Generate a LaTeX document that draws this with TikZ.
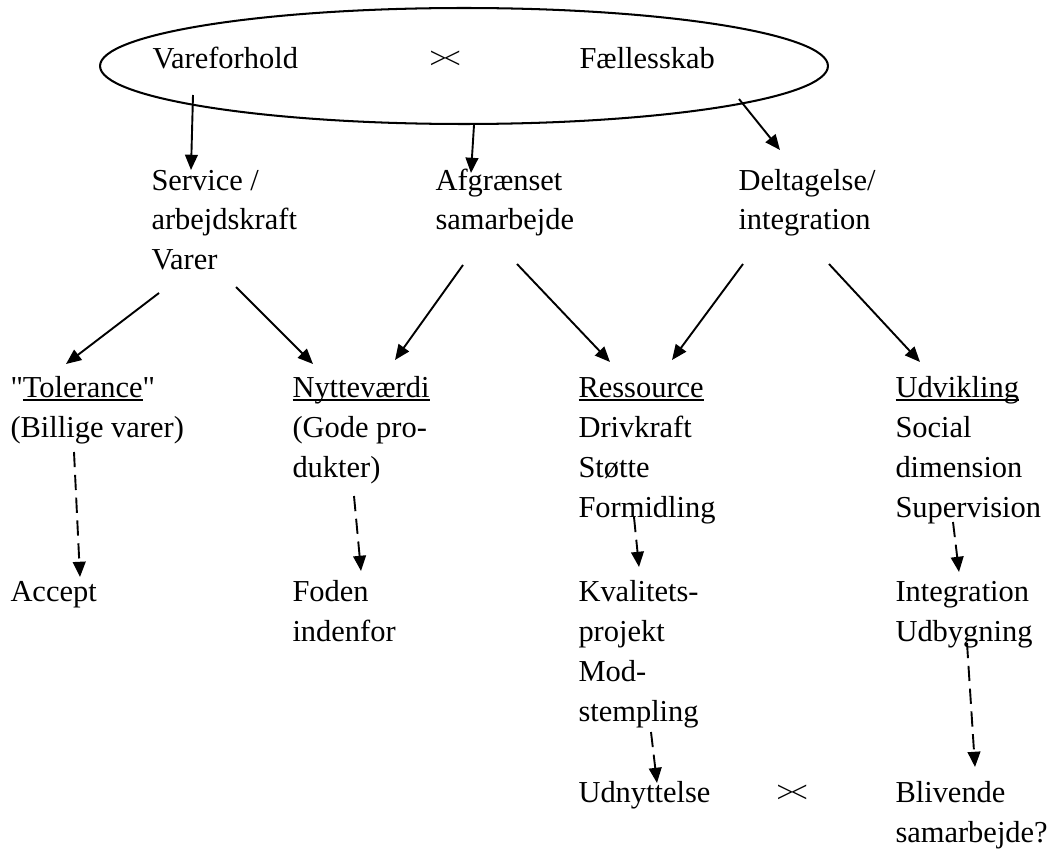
\documentclass[tikz,border=0pt]{standalone}
\usepackage{fontspec}
\setmainfont{Liberation Serif}
\usetikzlibrary{arrows.meta,shapes.geometric}
\newcommand{\ulword}[1]{\setbox0=\hbox{#1}\rlap{\rule[-1.6pt]{\wd0}{0.7pt}}\box0}
\newcommand{\modsat}{>\kern-0.1em<}
\begin{document}
\begin{tikzpicture}[x=0.394pt,y=-0.394pt,
  txt/.style={anchor=base west,inner sep=0pt,align=left,font=\fontsize{12}{15.76}\selectfont},
  arr/.style={-{Triangle[length=6pt,width=5pt]},line width=0.75pt},
  darr/.style={arr,dash pattern=on 6pt off 3pt}]
  \useasboundingbox (0,0) rectangle (1053,852);

  % Top ellipse (base west = baseline of the last line)
  \node[draw,ellipse,line width=0.8pt,inner sep=0pt,minimum width=286.8pt,minimum height=45.7pt] (top) at (464,66) {};
  \node[txt] (vare) at (152,69) {Vareforhold};
  \node[txt] (vs1) at (429,69) {\modsat};
  \node[txt] (fael) at (579,69) {Fællesskab};

  % Second row
  \node[txt] (serv) at (151,270) {Service /\\arbejdskraft\\Varer};
  \node[txt] (afgr) at (435,230) {Afgrænset\\samarbejde};
  \node[txt] (delt) at (738,230) {Deltagelse/\\integration};

  % Third row
  \node[txt] (tol) at (10,437) {\textquotedbl\ulword{Tolerance}\textquotedbl\\(Billige varer)};
  \node[txt] (nyt) at (292,477) {\ulword{Nytteværdi}\\(Gode pro-\\dukter)};
  \node[txt] (res) at (578,517) {\ulword{Ressource}\\Drivkraft\\Støtte\\Formidling};
  \node[txt] (udv) at (895,517) {\ulword{Udvikling}\\Social\\dimension\\Supervision};

  % Fourth row
  \node[txt] (acc) at (10,601) {Accept};
  \node[txt] (fod) at (292,641) {Foden\\indenfor};
  \node[txt] (kval) at (578,721) {Kvalitets-\\projekt\\Mod-\\stempling};
  \node[txt] (integ) at (895,641) {Integration\\Udbygning};

  % Bottom row
  \node[txt] (udn) at (578,802) {Udnyttelse};
  \node[txt] (vs2) at (776,802) {\modsat};
  \node[txt] (bliv) at (895,842) {Blivende\\samarbejde?};

  % Solid arrows
  \draw[arr] ([shift={(41,26)}]vare.base west) -- ([shift={(40,-100)}]serv.base west);
  \draw[arr] ([shift={(10,0)}]top.south) -- ([shift={(36,-57)}]afgr.base west);
  \draw[arr] ([shift={(160,30)}]fael.base west) -- ([shift={(42,-80)}]delt.base west);
  \draw[arr] ([shift={(8,23)}]serv.base west) -- ([shift={(56,-73)}]tol.base west);
  \draw[arr] ([shift={(85,17)}]serv.base west) -- ([shift={(21,-113)}]nyt.base west);
  \draw[arr] ([shift={(28,35)}]afgr.base west) -- ([shift={(103,-117)}]nyt.base west);
  \draw[arr] ([shift={(82,34)}]afgr.base west) -- ([shift={(32,-155)}]res.base west);
  \draw[arr] ([shift={(5,34)}]delt.base west) -- ([shift={(94,-157)}]res.base west);
  \draw[arr] ([shift={(91,34)}]delt.base west) -- ([shift={(25,-155)}]udv.base west);

  % Dashed arrows
  \draw[darr] ([shift={(64,15)}]tol.base west) -- ([shift={(70,-24)}]acc.base west);
  \draw[darr] ([shift={(62,19)}]nyt.base west) -- ([shift={(69,-70)}]fod.base west);
  \draw[darr] ([shift={(56,0)}]res.base west) -- ([shift={(61,-154)}]kval.base west);
  \draw[darr] ([shift={(58,5)}]udv.base west) -- ([shift={(64,-69)}]integ.base west);
  \draw[darr] ([shift={(73,11)}]kval.base west) -- ([shift={(79,-19)}]udn.base west);
  \draw[darr] ([shift={(72,2)}]integ.base west) -- ([shift={(80,-75)}]bliv.base west);
\end{tikzpicture}
\end{document}
